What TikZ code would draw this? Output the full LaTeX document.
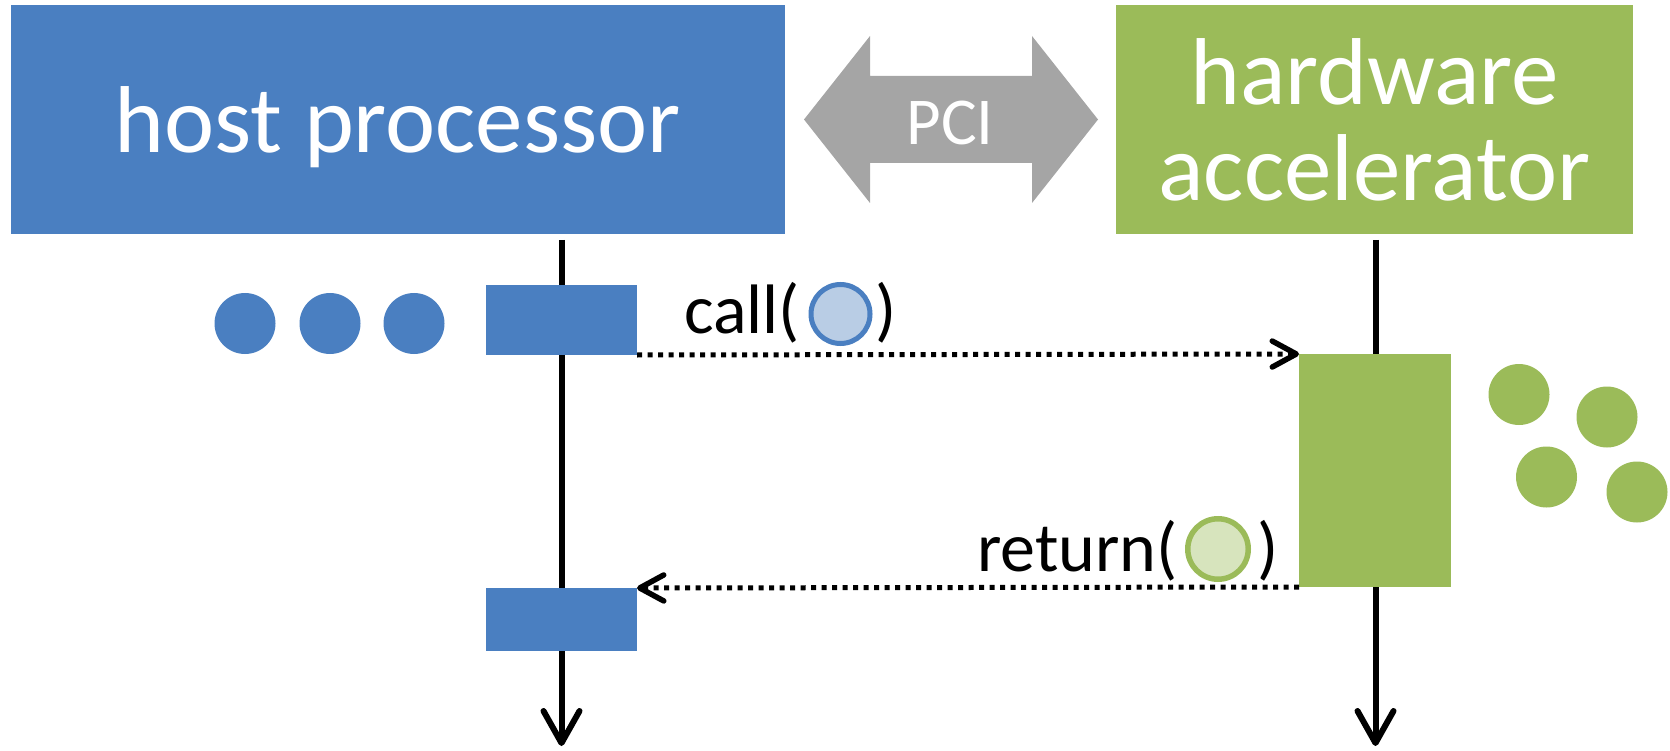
\documentclass[tikz,border=0pt]{standalone}
\usepackage{fontspec}
\setmainfont{Carlito}
\usetikzlibrary{arrows.meta}

\definecolor{hostblue}{HTML}{4A7FC1}
\definecolor{accgreen}{HTML}{9BBB59}
\definecolor{pcigray}{HTML}{A5A5A5}
\definecolor{callfill}{HTML}{B9CDE5}
\definecolor{retfill}{HTML}{D7E4BD}

\tikzset{
  unitbox/.style={draw=none, inner sep=0pt, outer sep=0pt, text=white,
    font=\fontsize{95}{96}\selectfont},
  actbox/.style={draw=none, inner sep=0pt, outer sep=0pt, anchor=north west},
  lifeline/.style={line width=6pt,
    -{Straight Barb[length=32pt, width=36pt, line width=6pt, round]}},
  msg/.style={line width=5pt, dash pattern=on 5pt off 5.5pt,
    -{Straight Barb[length=24pt, width=26pt, line width=5.5pt, round]}},
  msglabel/.style={inner sep=0pt, outer sep=0pt, text=black,
    font=\fontsize{70}{84}\selectfont},
  hdot/.style={circle, fill=hostblue, minimum size=61pt, inner sep=0pt},
  gdot/.style={circle, fill=accgreen, minimum size=61pt, inner sep=0pt},
  callball/.style={circle, draw=hostblue, line width=5pt, fill=callfill,
    minimum size=59pt, inner sep=0pt},
  retball/.style={circle, draw=accgreen, line width=5.5pt, fill=retfill,
    minimum size=60.5pt, inner sep=0pt},
}

\begin{document}
\begin{tikzpicture}[x=1pt, y=-1pt]
\useasboundingbox (0,0) rectangle (1670,751);

% processing units
\node[unitbox, fill=hostblue, anchor=north west, minimum width=774.5pt,
  minimum height=229pt, text height=66pt, text depth=0pt]
  (host) at (10.5,5) {host processor};
\node[unitbox, fill=accgreen, anchor=north west, minimum width=517pt,
  minimum height=229pt, align=center, text height=162pt, text depth=0pt]
  (accel) at (1116,5) {hardware\\accelerator};

% PCI link
\fill[pcigray] (804,119.5) -- (870,36) -- (870,76) -- (1032,76) -- (1032,36)
  -- (1098,119.5) -- (1032,203) -- (1032,163) -- (870,163) -- (870,203) -- cycle;
\node[inner sep=0pt, text=white, font=\fontsize{67}{80}\selectfont, anchor=base]
  (pci) at (950,145) {PCI};

% lifelines
\coordinate (hosttop) at (561.5,240);
\coordinate (hostbot) at (561.5,746);
\coordinate (acctop) at (1375.5,240);
\coordinate (accbot) at (1375.5,746);
\draw[lifeline] (hosttop) -- (hostbot);
\draw[lifeline] (acctop) -- (accbot);

% activations
\node[actbox, fill=hostblue, minimum width=151pt, minimum height=70pt]
  (hostact1) at (486,285) {};
\node[actbox, fill=hostblue, minimum width=151pt, minimum height=63pt]
  (hostact2) at (486,588) {};
\node[actbox, fill=accgreen, minimum width=152pt, minimum height=233pt]
  (accact) at (1299,354) {};

% pending work
\node[hdot] (h1) at (245,323.5) {};
\node[hdot] (h2) at (330,323.5) {};
\node[hdot] (h3) at (414,323.5) {};
\node[gdot] (g1) at (1519,394.5) {};
\node[gdot] (g2) at (1607,417) {};
\node[gdot] (g3) at (1546.5,477) {};
\node[gdot] (g4) at (1637,492) {};

% messages
\draw[msg] (hostact1.south east) -- (accact.north west);
\draw[msg] (accact.south west) -- (hostact2.north east);

\node[msglabel, anchor=base west] (calltxt) at (684,334) {call(};
\node[callball] (callarg) at (840.5,314) {};
\node[msglabel, anchor=base west] (callclose) at (875,334) {)};

\node[msglabel, anchor=base west] (rettxt) at (977,571) {return(};
\node[retball] (retarg) at (1218,549) {};
\node[msglabel, anchor=base west] (retclose) at (1257,571) {)};
\end{tikzpicture}
\end{document}
